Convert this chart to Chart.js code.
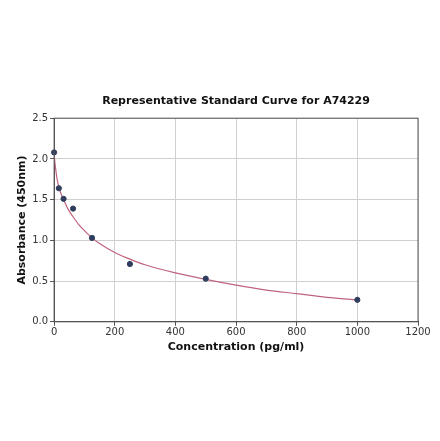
<!DOCTYPE html>
<html>
<head>
<meta charset="utf-8">
<script src="https://cdn.jsdelivr.net/npm/chart.js@4"></script>
<style>
  html, body { margin: 0; padding: 0; background: #fff; }
  #c { display: block; }
</style>
</head>
<body>
<canvas id="c" width="440" height="441"></canvas>
<script>
// measured standards
var concentrations = [0, 15.6, 31.25, 62.5, 125, 250, 500, 1000];
var absorbances = [2.08, 1.64, 1.51, 1.39, 1.03, 0.71, 0.53, 0.27];

// fitted curve
var curveX = [0, 5, 10, 20, 30, 45, 62.5, 80, 100, 125, 150, 200, 250, 300, 400, 500, 600, 700, 800, 900, 1000];
var curveY = [2.05, 1.88, 1.75, 1.60, 1.51, 1.39, 1.29, 1.20, 1.12, 1.03, 0.96, 0.85, 0.77, 0.70, 0.60, 0.52, 0.45, 0.39, 0.345, 0.30, 0.27];

var xTicks = [0, 200, 400, 600, 800, 1000, 1200];
var yTicks = [0, 0.5, 1.0, 1.5, 2.0, 2.5];

var FONT = "'DejaVu Sans', sans-serif";

function pairs(xs, ys) {
    return xs.map(function (x, i) { return { x: x, y: ys[i] }; });
}

var frame = {
    id: 'frame',
    afterDraw: function (chart) {
        var a = chart.chartArea, ctx = chart.ctx;
        ctx.save();
        ctx.strokeStyle = '#555';
        ctx.lineWidth = 1;
        ctx.strokeRect(a.left, a.top, a.right - a.left, a.bottom - a.top);
        ctx.restore();
    }
};

new Chart(document.getElementById('c'), {
    type: 'scatter',
    data: {
        datasets: [{
            label: 'Standards',
            data: pairs(concentrations, absorbances),
            backgroundColor: '#2f3e5e',
            borderColor: '#2f3e5e',
            pointRadius: 2.6,
            clip: false,
            order: 1
        }, {
            label: 'Fit',
            type: 'line',
            data: pairs(curveX, curveY),
            borderColor: '#c0647e',
            borderWidth: 1.2,
            pointRadius: 0,
            fill: false,
            tension: 0.4,
            cubicInterpolationMode: 'monotone',
            order: 2
        }]
    },
    options: {
        responsive: false,
        animation: false,
        layout: { padding: { top: 95, left: 12, right: 22, bottom: 83 } },
        plugins: {
            legend: { display: false },
            tooltip: { enabled: false }
        },
        scales: {
            // top axis only carries the chart title so it centres over the plot
            top: {
                type: 'linear',
                position: 'top',
                min: 0,
                max: 1200,
                grid: { display: false },
                ticks: { display: false },
                border: { display: false },
                title: {
                    display: true,
                    text: 'Representative Standard Curve for A74229',
                    color: '#111',
                    font: { family: FONT, size: 11, weight: 'bold' },
                    padding: { top: 0, bottom: 2 }
                }
            },
            x: {
                type: 'linear',
                min: 0,
                max: 1200,
                afterBuildTicks: function (axis) {
                    axis.ticks = xTicks.map(function (v) { return { value: v }; });
                },
                ticks: {
                    color: '#333',
                    font: { family: FONT, size: 10 },
                    padding: 1,
                    maxRotation: 0,
                    callback: function (v) { return String(v); }
                },
                grid: { color: '#d0d0d0', tickLength: 4, tickColor: '#555' },
                border: { color: '#555' },
                title: {
                    display: true,
                    text: 'Concentration (pg/ml)',
                    color: '#111',
                    font: { family: FONT, size: 11, weight: 'bold' },
                    padding: { top: 1 }
                }
            },
            y: {
                min: 0,
                max: 2.5,
                afterBuildTicks: function (axis) {
                    axis.ticks = yTicks.map(function (v) { return { value: v }; });
                },
                ticks: {
                    color: '#333',
                    font: { family: FONT, size: 10 },
                    padding: 2,
                    callback: function (v) { return v.toFixed(1); }
                },
                grid: { color: '#d0d0d0', tickLength: 4, tickColor: '#555' },
                border: { color: '#555' },
                title: {
                    display: true,
                    text: 'Absorbance (450nm)',
                    color: '#111',
                    font: { family: FONT, size: 11, weight: 'bold' },
                    padding: { bottom: 1 }
                }
            }
        }
    },
    plugins: [frame]
});
</script>
</body>
</html>
